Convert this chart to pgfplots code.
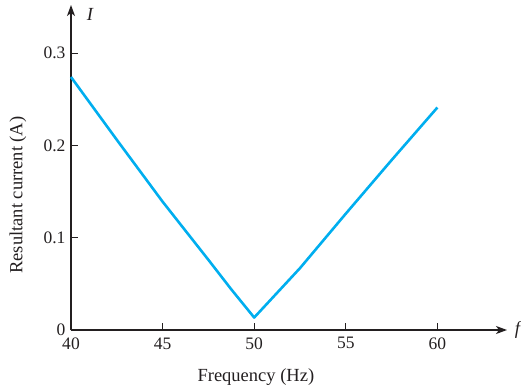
\documentclass[border=0pt]{standalone}
\usepackage{fontspec}
\setmainfont{Liberation Serif}
\usepackage{pgfplots}
\pgfplotsset{compat=1.18}
\usetikzlibrary{arrows.meta}
\definecolor{curve}{RGB}{0,174,239}
\definecolor{axcol}{RGB}{35,31,32}
\begin{document}
\begin{tikzpicture}
\begin{axis}[
  at={(0pt,0pt)}, anchor=south west,
  scale only axis, width=436pt, height=325pt,
  xmin=40, xmax=63.8, ymin=0, ymax=0.352,
  axis lines=left,
  axis line style={axcol, line width=1.2pt, -{Stealth[length=11pt,width=8pt,inset=3pt]}},
  xtick={40,45,50,55,60},
  ytick={0,0.1,0.2,0.3},
  tick align=inside,
  major tick length=7pt,
  tick style={axcol, line width=1pt},
  /pgf/number format/assume math mode=true,
  ticklabel style={font=\fontsize{17.5}{20}\selectfont, text=axcol},
  yticklabel style={xshift=-2pt},
  xticklabel style={yshift=-4pt},
  xlabel={Frequency (Hz)},
  ylabel={Resultant current (A)},
  every axis x label/.style={at={(axis description cs:0.424,-0.1446)}, anchor=center, font=\fontsize{18.5}{22}\selectfont, text=axcol},
  every axis y label/.style={at={(axis description cs:-0.1216,0.415)}, rotate=90, anchor=center, font=\fontsize{18.5}{22}\selectfont, text=axcol},
  clip=false,
]
\addplot[curve, line width=2.6pt, line join=round] coordinates {
  (40,0.274) (42.5,0.206) (45,0.139) (47.5,0.076) (48.75,0.044) (50,0.0135)
  (52.5,0.067) (55,0.126) (57.5,0.184) (60,0.241)
};
\node[font=\fontsize{18.5}{22}\selectfont\itshape, text=axcol] at (axis description cs:0.0436,0.972) {I};
\node[font=\fontsize{18.5}{22}\selectfont\itshape, text=axcol, anchor=west] at (axis description cs:1.01,0) {f};
\end{axis}
\pgfresetboundingbox
\path[use as bounding box] (-71pt,-58pt) rectangle (450pt,330pt);
\end{tikzpicture}
\end{document}
